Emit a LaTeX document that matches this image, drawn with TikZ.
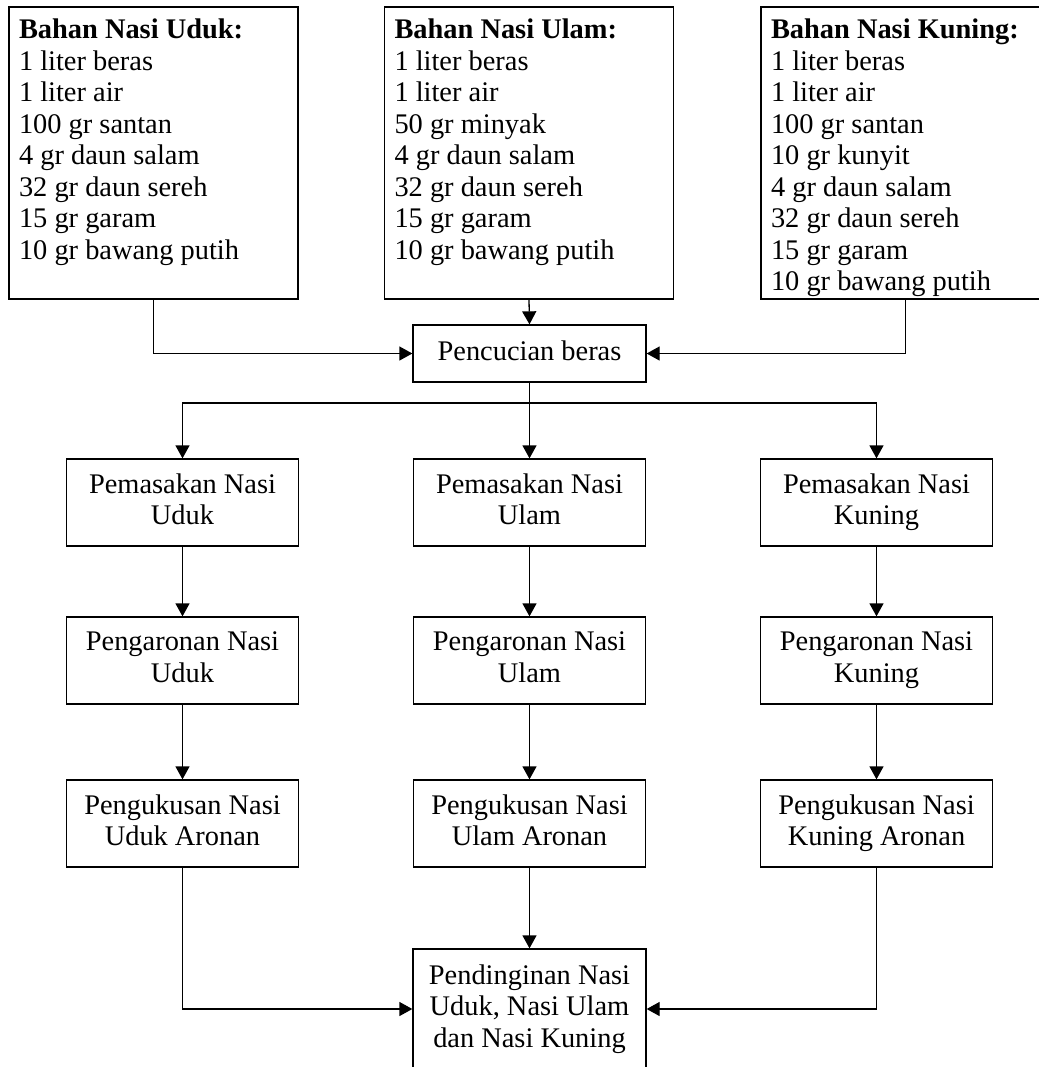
\documentclass[tikz,border=0pt]{standalone}
\usepackage{fontspec}
\setmainfont{Liberation Serif}
\usetikzlibrary{arrows.meta}
\newcommand{\daftarbahan}[1]{\parbox[t][134pt][t]{134.5pt}{#1}}
\newcommand{\tegak}{\rule[-3.2pt]{0pt}{11pt}}

\begin{document}
\begin{tikzpicture}[
    x=0.5pt, y=-0.5pt,
    >={Triangle[length=6.5pt, width=7pt]},
    line width=0.65pt,
    font=\fontsize{14.2}{15.75}\selectfont,
    bahanbox/.style={draw, inner xsep=5pt, inner ysep=6pt},
    prosesbox/.style={draw, align=center, inner sep=0pt, minimum width=116pt, minimum height=43.5pt,
        execute at begin node=\tegak, execute at end node=\tegak}
]
    \useasboundingbox (0,0) rectangle (1039,1067);
    \node[bahanbox] (bahanUduk) at (153.5,153)
        {\daftarbahan{\textbf{Bahan Nasi Uduk:}\\1 liter beras\\1 liter air\\100 gr santan\\4 gr daun salam\\32 gr daun sereh\\15 gr garam\\10 gr bawang putih}};
    \node[bahanbox] (bahanUlam) at (529,153)
        {\daftarbahan{\textbf{Bahan Nasi Ulam:}\\1 liter beras\\1 liter air\\50 gr minyak\\4 gr daun salam\\32 gr daun sereh\\15 gr garam\\10 gr bawang putih}};
    \node[bahanbox] (bahanKuning) at (905.5,153)
        {\daftarbahan{\textbf{Bahan Nasi Kuning:}\\1 liter beras\\1 liter air\\100 gr santan\\10 gr kunyit\\4 gr daun salam\\32 gr daun sereh\\15 gr garam\\10 gr bawang putih}};
    \node[prosesbox, minimum width=116.5pt, minimum height=28.5pt] (cuci) at (529.5,353.5) {Pencucian beras};
    \coordinate (cabang) at (529.5,403);
    \node[prosesbox] (masakUduk) at (182.5,502.5) {Pemasakan Nasi\\Uduk};
    \node[prosesbox] (masakUlam) at (529.5,502.5) {Pemasakan Nasi\\Ulam};
    \node[prosesbox] (masakKuning) at (876.5,502.5) {Pemasakan Nasi\\Kuning};
    \node[prosesbox] (aronUduk) at (182.5,660.5) {Pengaronan Nasi\\Uduk};
    \node[prosesbox] (aronUlam) at (529.5,660.5) {Pengaronan Nasi\\Ulam};
    \node[prosesbox] (aronKuning) at (876.5,660.5) {Pengaronan Nasi\\Kuning};
    \node[prosesbox] (kukusUduk) at (182.5,823.5) {Pengukusan Nasi\\Uduk Aronan};
    \node[prosesbox] (kukusUlam) at (529.5,823.5) {Pengukusan Nasi\\Ulam Aronan};
    \node[prosesbox] (kukusKuning) at (876.5,823.5) {Pengukusan Nasi\\Kuning Aronan};
    \node[prosesbox, minimum width=116.5pt, minimum height=60pt] (dingin) at (529.5,1009)
        {Pendinginan Nasi\\Uduk, Nasi Ulam\\dan Nasi Kuning};
    % bahan ke pencucian
    \draw[->] (bahanUduk.south) |- (cuci.west);
    \draw[->] (bahanUlam.south) -- (cuci.north);
    \draw[->] (bahanKuning.south) |- (cuci.east);
    % percabangan
    \draw[->] (cuci.south) -- (masakUlam.north);
    \draw[->] (cabang) -| (masakUduk.north);
    \draw[->] (cabang) -| (masakKuning.north);
    \draw[->] (masakUduk) -- (aronUduk);
    \draw[->] (masakUlam) -- (aronUlam);
    \draw[->] (masakKuning) -- (aronKuning);
    \draw[->] (aronUduk) -- (kukusUduk);
    \draw[->] (aronUlam) -- (kukusUlam);
    \draw[->] (aronKuning) -- (kukusKuning);
    % ke pendinginan
    \draw[->] (kukusUduk.south) |- (dingin.west);
    \draw[->] (kukusUlam.south) -- (dingin.north);
    \draw[->] (kukusKuning.south) |- (dingin.east);
\end{tikzpicture}
\end{document}
